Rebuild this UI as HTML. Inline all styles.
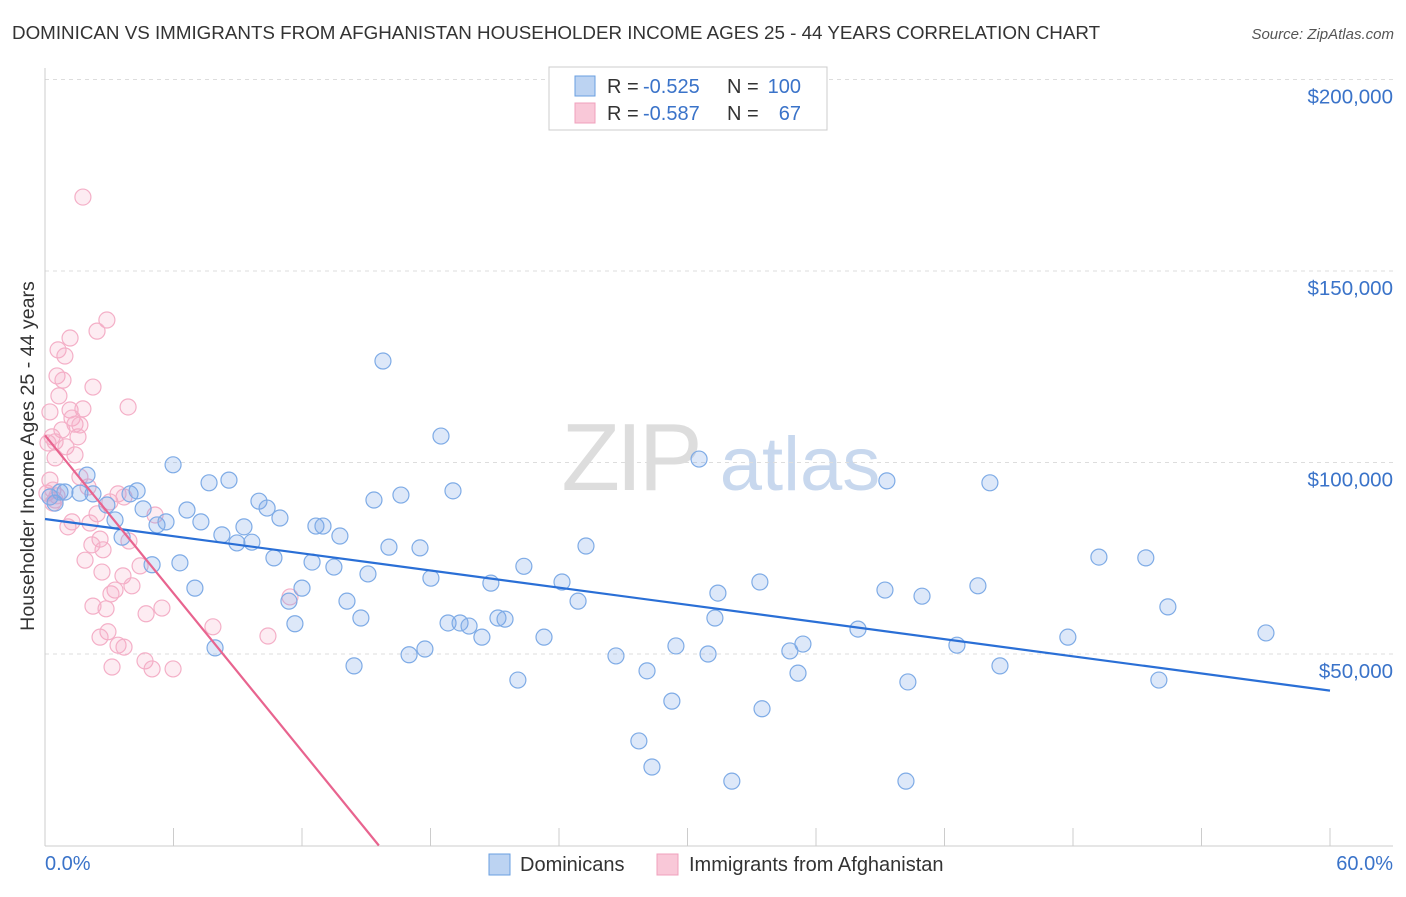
<!DOCTYPE html>
<html><head><meta charset="utf-8"><style>
body{margin:0;background:#fff;font-family:"Liberation Sans",sans-serif;}
svg text{font-family:"Liberation Sans",sans-serif;}
</style></head><body>
<svg id="chart" width="1406" height="892" viewBox="0 0 1406 892">
<text x="12" y="39" font-size="18.8" fill="#333">DOMINICAN VS IMMIGRANTS FROM AFGHANISTAN HOUSEHOLDER INCOME AGES 25 - 44 YEARS CORRELATION CHART</text>
<text x="1394" y="39" font-size="15" fill="#555" font-style="italic" text-anchor="end">Source: ZipAtlas.com</text>
<g>
<text x="630" y="490" font-size="96" fill="#ddd" font-family="Liberation Serif" text-anchor="middle" letter-spacing="-4">ZIP</text>
<text x="800" y="490" font-size="76" fill="#c8d8ee" text-anchor="middle">atlas</text>
</g>
<g id="grid"></g>
<g id="axes"></g>
<g id="points"></g>
<g id="trends"></g>
<text transform="translate(34,456) rotate(-90)" font-size="19.6" fill="#333" text-anchor="middle">Householder Income Ages 25 - 44 years</text>
<text x="45" y="870" font-size="20" fill="#3a73c9">0.0%</text>
<text x="1393" y="870" font-size="20" fill="#3a73c9" text-anchor="end">60.0%</text>
<g>
<rect x="549" y="67" width="278" height="63" fill="#fff" stroke="#ccc"/>
<rect x="575" y="76" width="20" height="20" fill="#bcd3f2" stroke="#6a9fe0"/>
<rect x="575" y="103" width="20" height="20" fill="#f9c8d8" stroke="#f0a0bc"/>
<text x="607" y="93" font-size="20" fill="#333">R =</text>
<text x="643" y="93" font-size="20" fill="#3a73c9">-0.525</text>
<text x="727" y="93" font-size="20" fill="#333">N =</text>
<text x="801" y="93" font-size="20" fill="#3a73c9" text-anchor="end">100</text>
<text x="607" y="120" font-size="20" fill="#333">R =</text>
<text x="643" y="120" font-size="20" fill="#3a73c9">-0.587</text>
<text x="727" y="120" font-size="20" fill="#333">N =</text>
<text x="801" y="120" font-size="20" fill="#3a73c9" text-anchor="end">67</text>
</g>
<g>
<rect x="489" y="854" width="21" height="21" fill="#bcd3f2" stroke="#6a9fe0"/>
<text x="520" y="871" font-size="20" fill="#333">Dominicans</text>
<rect x="657" y="854" width="21" height="21" fill="#f9c8d8" stroke="#f0a0bc"/>
<text x="689" y="871" font-size="20" fill="#333">Immigrants from Afghanistan</text>
</g>
</svg>
<script>
const yTicks=[50000,100000,150000,200000];
const yTickLabels=["$50,000","$100,000","$150,000","$200,000"];
const xTicks=[0,6,12,18,24,30,36,42,48,54,60];
const blueX=[0.47,0.23,0.70,0.93,1.63,1.96,2.24,2.89,3.27,3.60,3.97,4.30,4.58,5.23,5.65,5.00,5.98,6.30,6.63,7.00,7.28,7.66,7.94,8.26,8.59,8.96,9.29,9.66,9.99,10.37,10.69,10.97,11.39,11.67,12.0,12.47,12.65,12.98,13.49,13.77,14.10,14.43,14.75,15.08,15.36,15.78,16.06,16.62,17.0,17.51,17.74,18.02,18.49,18.82,19.05,19.38,19.80,20.40,20.82,21.15,21.48,22.08,22.36,23.30,24.14,24.89,25.26,26.66,28.11,28.34,29.27,29.46,30.54,30.96,31.42,31.28,32.07,33.38,33.48,34.78,35.16,35.39,37.96,39.22,39.31,40.29,40.95,42.58,43.56,44.12,44.59,47.76,49.21,51.40,52.01,52.43,57.01,27.73,40.20];
const blueY=[89.4,91.0,92.3,92.3,92.0,96.7,91.8,88.9,85.0,80.5,91.8,92.6,87.9,83.7,84.5,73.3,99.4,73.8,87.6,67.2,84.5,94.7,51.6,81.1,95.4,79.0,83.2,79.2,89.9,88.1,75.1,85.5,63.8,57.9,67.2,74.0,83.4,83.4,72.7,80.8,63.8,46.9,59.4,70.9,90.2,126.5,77.9,91.5,49.8,77.7,51.3,69.8,106.9,58.1,92.6,58.1,57.3,54.4,68.5,59.4,59.1,43.2,72.9,54.4,68.8,63.8,78.2,49.5,45.6,20.5,37.7,52.1,100.9,50.0,65.9,59.4,16.8,68.8,35.7,50.8,45.0,52.6,56.5,66.7,95.2,42.7,65.1,52.3,67.8,94.7,46.9,54.4,75.3,75.1,43.2,62.3,55.5,27.3,16.8];
const pinkX=[1.77,2.89,2.43,1.17,0.61,0.93,0.56,0.84,2.24,3.88,0.65,1.17,1.77,0.23,1.26,1.40,1.63,0.79,0.33,1.54,0.14,0.47,0.98,0.47,1.40,1.63,2.01,0.23,0.37,0.09,0.47,3.41,3.03,3.69,0.37,1.07,1.26,2.10,2.57,2.19,2.71,5.14,3.92,2.66,3.64,4.44,3.27,4.06,3.08,2.85,5.46,2.24,4.72,7.84,2.94,2.57,3.41,3.69,10.41,11.44,4.67,3.13,5.00,5.98,2.43,0.56,1.87];
const pinkY=[169.3,137.2,134.3,132.5,129.4,127.8,122.6,121.5,119.7,114.5,117.4,113.7,114.0,113.2,111.6,110.0,109.8,108.5,106.7,106.7,105.1,105.4,104.1,101.2,102.0,96.2,93.6,95.4,92.8,92.0,90.2,91.8,89.7,91.0,89.4,83.2,84.5,84.2,80.0,78.5,77.2,86.3,79.5,71.4,70.4,73.0,66.7,67.8,65.7,61.8,62.0,62.5,60.5,57.1,55.8,54.4,52.3,51.8,54.7,64.9,48.2,46.6,46.1,46.1,86.6,91.3,74.5];

const NS="http://www.w3.org/2000/svg";
const X0=45,X1=1330,YB=845.5,PXK=191.5/50;
function sx(v){return X0+(v/60)*(X1-X0);}
function sy(k){return YB-k*PXK;}
function el(tag,attrs,parent){const e=document.createElementNS(NS,tag);for(const k in attrs)e.setAttribute(k,attrs[k]);parent.appendChild(e);return e;}
const grid=document.getElementById('grid'),axes=document.getElementById('axes'),pts=document.getElementById('points'),tr=document.getElementById('trends');
yTicks.forEach((t,i)=>{
  const y=sy(t/1000);
  const l=el('line',{x1:X0,x2:1393,y1:y,y2:y,stroke:'#ddd','stroke-dasharray':'4,4'},grid);
  
  
  const tx=el('text',{x:1393,y:y+24,'font-size':20.5,fill:'#3a73c9','text-anchor':'end'},grid);
  tx.textContent=yTickLabels[i];
  
  
});
const yl=el('line',{x1:X0,x2:X0,y1:68,y2:846,stroke:'#ccc'},axes);


const xl=el('line',{x1:X0,x2:1393,y1:846,y2:846,stroke:'#ccc'},axes);


xTicks.forEach(t=>{
  const x=sx(t);
  const l=el('line',{x1:x,x2:x,y1:828,y2:846,stroke:'#ccc'},axes);
  
  
});
function drawPts(xs,ys,stroke,fill,name){
  xs.forEach((v,i)=>{
    const c=el('circle',{cx:sx(v),cy:sy(ys[i]),r:8,fill:fill,stroke:stroke,'stroke-width':1.2},pts);
    
    
  });
}
drawPts(pinkX,pinkY,'#f4afc7','rgba(244,170,195,0.22)','afghanistan-point');
drawPts(blueX,blueY,'#7eabe6','rgba(120,165,230,0.25)','dominican-point');
function reg(xs,ys){const n=xs.length;let mx=0,my=0;for(let i=0;i<n;i++){mx+=xs[i];my+=ys[i];}mx/=n;my/=n;let sxy=0,sxx=0;for(let i=0;i<n;i++){sxy+=(xs[i]-mx)*(ys[i]-my);sxx+=(xs[i]-mx)**2;}const b=sxy/sxx;return [my-b*mx,b];}
const [ba,bb]=reg(blueX,blueY);
const bl=el('line',{x1:sx(0),y1:sy(ba),x2:sx(60),y2:sy(ba+bb*60),stroke:'#2a6fd6','stroke-width':2.2},tr);


const [pa,pb]=reg(pinkX,pinkY);
let xe=pb<0?Math.min(60,-pa/pb):60;
const pl=el('line',{x1:sx(0),y1:sy(pa),x2:sx(xe),y2:sy(pa+pb*xe),stroke:'#e8648f','stroke-width':2.2},tr);


</script>
</body></html>
